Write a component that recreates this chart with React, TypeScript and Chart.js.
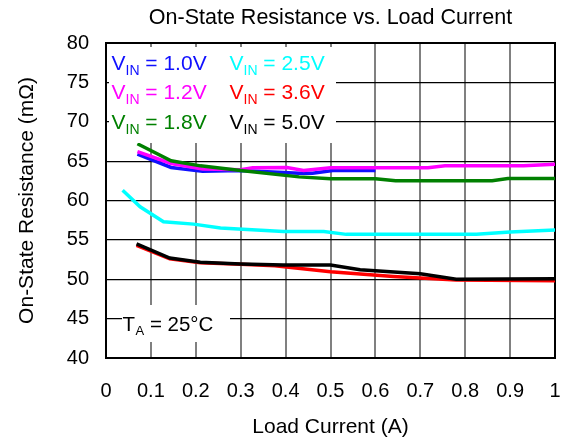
import React, { useEffect, useRef } from "react";
import { Chart, registerables } from "chart.js";

Chart.register(...registerables);

// ---- data ----
const xTickLabels = ["0", "0.1", "0.2", "0.3", "0.4", "0.5", "0.6", "0.7", "0.8", "0.9", "1"];
const yTickLabels = ["40", "45", "50", "55", "60", "65", "70", "75", "80"];

const seriesNames = ["1.0V", "1.2V", "1.8V", "2.5V", "3.6V", "5.0V"];
const seriesColors = ["#1010ff", "#ff00ff", "#008000", "#00ffff", "#ff0000", "#000000"];

const load10 = [0.07, 0.145, 0.215, 0.3, 0.43, 0.46, 0.505, 0.6];
const ron10 = [65.9, 64.2, 63.7, 63.8, 63.45, 63.45, 63.8, 63.8];

const load12 = [0.07, 0.145, 0.215, 0.3, 0.327, 0.403, 0.44, 0.5, 0.717, 0.755, 0.93, 1.0];
const ron12 = [66.2, 64.7, 64.0, 63.9, 64.15, 64.2, 63.8, 64.15, 64.15, 64.4, 64.4, 64.6];

const load18 = [0.07, 0.145, 0.21, 0.3, 0.43, 0.5, 0.6, 0.645, 0.86, 0.895, 1.0];
const ron18 = [67.2, 65.05, 64.4, 63.8, 63.0, 62.75, 62.75, 62.5, 62.5, 62.8, 62.8];

const load25 = [0.037, 0.076, 0.128, 0.195, 0.255, 0.395, 0.485, 0.535, 0.825, 0.9, 1.0];
const ron25 = [61.3, 59.2, 57.3, 57.0, 56.5, 56.05, 56.05, 55.7, 55.7, 56.0, 56.25];

const load36 = [0.068, 0.142, 0.21, 0.3, 0.376, 0.5, 0.64, 0.78, 1.0];
const ron36 = [54.3, 52.6, 52.1, 51.9, 51.7, 50.95, 50.35, 49.9, 49.8];

const load50 = [0.068, 0.142, 0.21, 0.3, 0.395, 0.5, 0.566, 0.7, 0.78, 1.0];
const ron50 = [54.5, 52.7, 52.15, 51.95, 51.8, 51.8, 51.2, 50.7, 50.0, 50.05];

const seriesX = [load10, load12, load18, load25, load36, load50];
const seriesY = [ron10, ron12, ron18, ron25, ron36, ron50];
const drawOrder = [5, 4, 3, 2, 1, 0];

const chartTitle = "On-State Resistance vs. Load Current";
const xTitle = "Load Current (A)";
const yTitle = "On-State Resistance (mΩ)";
const tempMain = "T";
const tempSub = "A";
const tempRest = " = 25°C";

const FONT = "'Liberation Sans', Arial, sans-serif";

const overlayPlugin = {
  id: "overlay",
  beforeDatasetsDraw(chart: any) {
    const { ctx, chartArea: a } = chart;
    ctx.save();
    ctx.strokeStyle = "#000";
    ctx.lineWidth = 2;
    ctx.strokeRect(a.left, a.top, a.right - a.left, a.bottom - a.top);
    ctx.restore();
  },
  afterDraw(chart: any) {
    const { ctx, chartArea: a } = chart;
    ctx.save();
    // title
    ctx.fillStyle = "#000";
    ctx.font = `21.5px ${FONT}`;
    ctx.textAlign = "center";
    ctx.textBaseline = "alphabetic";
    ctx.fillText(chartTitle, (a.left + a.right) / 2, 24);

    // legend box
    ctx.fillStyle = "#fff";
    ctx.fillRect(a.left + 3, a.top + 4, 227, 96);
    const cols = [a.left + 5.5, a.left + 123.5];
    const rows = [a.top + 26.5, a.top + 56, a.top + 85.5];
    ctx.textAlign = "left";
    for (let i = 0; i < seriesNames.length; i++) {
      const col = i < 3 ? 0 : 1;
      const row = i % 3;
      let x = cols[col];
      const y = rows[row];
      ctx.fillStyle = seriesColors[i];
      ctx.font = `21px ${FONT}`;
      ctx.fillText("V", x, y);
      x += ctx.measureText("V").width;
      ctx.font = `14px ${FONT}`;
      ctx.fillText("IN", x, y + 5);
      x += ctx.measureText("IN").width;
      ctx.font = `21px ${FONT}`;
      ctx.fillText(" = " + seriesNames[i], x, y);
    }

    // temperature label
    const ty = a.top + 287.5;
    ctx.fillStyle = "#fff";
    ctx.fillRect(a.left + 16, a.top + 262, 108, 37);
    ctx.fillStyle = "#000";
    let tx = a.left + 16.5;
    ctx.font = `20.5px ${FONT}`;
    ctx.fillText(tempMain, tx, ty);
    tx += ctx.measureText(tempMain).width + 0.5;
    ctx.font = `13px ${FONT}`;
    ctx.fillText(tempSub, tx, ty + 4);
    tx += ctx.measureText(tempSub).width;
    ctx.font = `20.5px ${FONT}`;
    ctx.fillText(tempRest, tx, ty);
    ctx.restore();
  },
};

export default function App() {
  const ref = useRef<HTMLCanvasElement | null>(null);
  useEffect(() => {
    if (!ref.current) return;
    const datasets = seriesNames.map((name, i) => ({
      label: "VIN = " + name,
      data: seriesX[i].map((x, j) => ({ x, y: seriesY[i][j] })),
      borderColor: seriesColors[i],
      backgroundColor: seriesColors[i],
      borderWidth: 3.5,
      pointRadius: 0,
      tension: 0,
      fill: false,
      order: drawOrder[i],
    }));
    const chart = new Chart(ref.current, {
      type: "line",
      data: { datasets },
      plugins: [overlayPlugin],
      options: {
        animation: false,
        responsive: false,
        devicePixelRatio: 1,
        layout: { padding: { left: 0, right: 12, top: 43, bottom: 0 } },
        plugins: { legend: { display: false }, tooltip: { enabled: false }, title: { display: false } },
        scales: {
          x: {
            type: "linear",
            min: 0,
            max: 1,
            afterFit: (s: any) => {
              s.height = 83;
              s.paddingLeft = 0;
              s.paddingRight = 0;
            },
            afterBuildTicks: (s: any) => {
              s.ticks = xTickLabels.map((t) => ({ value: parseFloat(t) }));
            },
            ticks: {
              padding: 21,
              color: "#000",
              font: { family: FONT, size: 20 },
              maxRotation: 0,
              autoSkip: false,
              callback: (_v: any, i: number) => xTickLabels[i],
            },
            grid: { color: "#808080", lineWidth: 2, drawTicks: false },
            border: { display: false },
            title: {
              display: true,
              text: xTitle,
              color: "#000",
              font: { family: FONT, size: 21 },
              padding: { top: 0, bottom: 1.5 },
            },
          },
          y: {
            type: "linear",
            min: 40,
            max: 80,
            afterFit: (s: any) => {
              s.width = 106;
              s.paddingTop = 0;
              s.paddingBottom = 0;
            },
            afterBuildTicks: (s: any) => {
              s.ticks = yTickLabels.map((t) => ({ value: parseFloat(t) }));
            },
            ticks: {
              padding: 17,
              color: "#000",
              font: { family: FONT, size: 20 },
              autoSkip: false,
              callback: (_v: any, i: number) => yTickLabels[i],
            },
            grid: { color: "#000", lineWidth: 1.2, drawTicks: false },
            border: { display: false },
            title: {
              display: true,
              text: yTitle,
              color: "#000",
              font: { family: FONT, size: 21 },
              padding: { top: 14.5, bottom: 0 },
            },
          },
        },
      },
    });
    return () => chart.destroy();
  }, []);
  return (
    <div style={{ position: "fixed", left: 0, top: 0, width: 567, height: 441, background: "#fff" }}>
      <canvas ref={ref} width={567} height={441} />
    </div>
  );
}
